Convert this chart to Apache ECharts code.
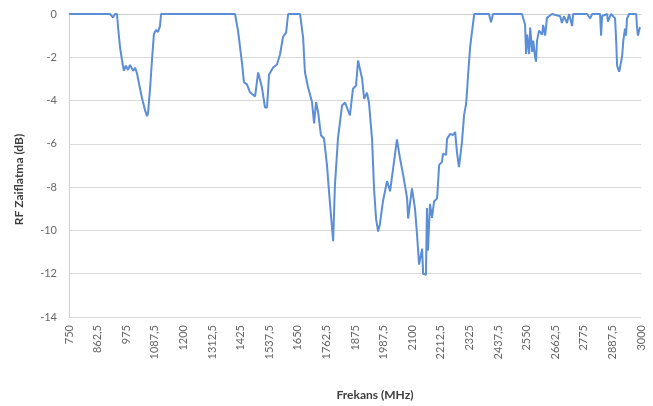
<!DOCTYPE html>
<html>
<head>
<meta charset="utf-8">
<script src="https://cdn.jsdelivr.net/npm/echarts@6/dist/echarts.min.js"></script>
<style>
html,body{margin:0;padding:0;background:#ffffff;}
#chart{width:653px;height:406px;}
</style>
</head>
<body>
<div id="chart"></div>
<script>
// Frequencies (MHz)
const freqs = [750,911,923,931,939,943,951,958,966,974,982,990,1002,1010,1017,1025,1037,1049,1057,1061,1069,1077,1084,1092,1100,1108,1112,
1403,1415,1431,1438,1450,1462,1482,1494,1509,1521,1529,1537,1553,1568,1580,1592,1604,1612,1659,1667,1671,1678,1690,1706,1714,1722,1730,1741,1753,1765,1773,1789,1796,1808,1824,1836,1855,1867,1879,1887,1903,1911,1922,1930,1942,1950,1958,1966,1973,1985,2001,2013,2025,2040,2052,2064,2080,2084,2099,2111,2119,2127,2139,2143,2154,2158,2162,2170,2178,2186,2198,2206,2217,2221,2233,2237,2249,2261,2269,2276,2284,2296,2304,2312,2316,2320,2328,2336,2344,
2402,2410,2418,2532,2544,2548,2552,2560,2564,2572,2576,2583,2587,2591,2599,2611,2615,2623,2630,2650,2682,2689,2697,2709,2717,2729,2733,2788,2800,2808,2839,2843,2847,2867,2870,2882,2898,2902,2906,2914,2918,2926,2930,2937,2941,2945,2953,2965,2981,2984,2988,2996];
// RF attenuation (dB)
const rfLoss = [0,0,-0.16,0,0,-0.63,-1.56,-2.1,-2.62,-2.39,-2.58,-2.35,-2.63,-2.49,-2.72,-3.19,-3.88,-4.44,-4.72,-4.58,-3.42,-2.03,-0.93,-0.74,-0.83,-0.56,0,
0,-0.78,-2.32,-3.15,-3.25,-3.62,-3.81,-2.7,-3.4,-4.32,-4.32,-2.79,-2.47,-2.33,-1.87,-1.05,-0.86,0,0,-0.74,-1.1,-2.68,-3.37,-4.07,-5.05,-4.07,-4.54,-5.6,-5.75,-7.0,-8.24,-10.5,-7.93,-5.75,-4.23,-4.09,-4.69,-3.45,-3.31,-2.15,-2.99,-3.92,-3.64,-4.1,-5.77,-8.09,-9.48,-10.05,-9.71,-8.65,-7.72,-8.19,-7.13,-5.79,-6.67,-7.41,-8.52,-9.45,-8.06,-8.99,-10.19,-11.58,-10.84,-12.0,-12.05,-8.96,-10.94,-8.77,-9.42,-8.66,-8.52,-6.97,-6.83,-6.46,-6.51,-5.77,-5.54,-5.59,-5.45,-6.38,-7.07,-5.9,-4.66,-4.16,-3.52,-2.77,-1.52,-0.74,0,
0,-0.38,0,0,-0.5,-1.85,-0.95,-1.85,-0.63,-1.75,-1.23,-1.95,-2.2,-1.23,-0.77,-0.96,-0.5,-1.0,-0.18,0,-0.1,-0.42,-0.1,-0.42,0,-0.56,0,0,-0.2,0,0,-1.0,-0.1,0,-0.35,0,-0.2,-1.14,-2.39,-2.67,-2.44,-1.93,-1.28,-0.68,-1.0,-0.22,0,0,0,-0.55,-1.0,-0.6];

const xMin = 750, xMax = 3000, xStep = 112.5;
const yMin = -14, yMax = 0, yStep = 2;
const xTitle = 'Frekans (MHz)';
const yTitle = 'RF Zaiflatma (dB)';

const seriesData = freqs.map((f, i) => [f, rfLoss[i]]);

const chart = echarts.init(document.getElementById('chart'), null, {renderer: 'canvas'});
const font = 'Lato, "Open Sans", sans-serif';
chart.setOption({
  backgroundColor: '#ffffff',
  animation: false,
  grid: {left: 69, right: 12, top: 14, bottom: 89, containLabel: false},
  xAxis: {
    type: 'value', min: xMin, max: xMax, interval: xStep,
    name: xTitle, nameLocation: 'middle', nameGap: 72,
    nameTextStyle: {color: '#404040', fontSize: 12, fontWeight: 'bold', fontFamily: font, padding: [0, 0, 0, 40]},
    axisLine: {show: true, lineStyle: {color: '#d0d0d0', width: 1}},
    axisTick: {show: false},
    splitLine: {show: false},
    axisLabel: {
      rotate: 90, color: '#666666', fontSize: 11, fontFamily: font, margin: 8,
      formatter: v => String(v).replace('.', ',')
    }
  },
  yAxis: {
    type: 'value', min: yMin, max: yMax, interval: yStep,
    name: yTitle, nameLocation: 'middle', nameGap: 44,
    nameTextStyle: {color: '#404040', fontSize: 12, fontWeight: 'bold', fontFamily: font, padding: [0, 28, 0, 0]},
    axisLine: {show: true, lineStyle: {color: '#d0d0d0', width: 1}},
    axisTick: {show: false},
    splitLine: {show: true, lineStyle: {color: '#d9d9d9', width: 1}},
    axisLabel: {color: '#666666', fontSize: 11, fontFamily: font, margin: 12}
  },
  series: [{
    type: 'line',
    data: seriesData,
    showSymbol: false,
    smooth: false,
    lineStyle: {color: '#5b8ed6', width: 2},
    itemStyle: {color: '#5b8ed6'}
  }]
});
</script>
</body>
</html>
